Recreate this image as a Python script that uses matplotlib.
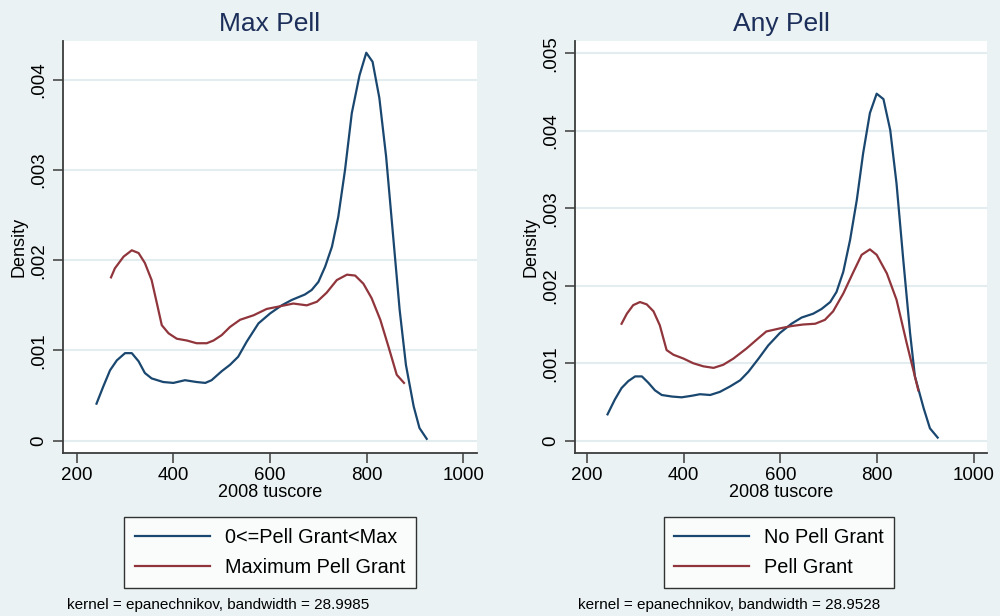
import matplotlib
matplotlib.use("Agg")
import matplotlib.pyplot as plt

# Max Pell panel
mp_lo_x = [241, 255, 269, 283, 300, 314, 328, 341, 355, 379, 400, 424, 448, 466, 479,
           500, 517, 534, 552, 576, 600, 624, 645, 672, 686, 700, 714, 728, 741, 755,
           769, 785, 799, 812, 826, 840, 854, 868, 881, 897, 909, 924]
mp_lo_y = [0.00041, 0.00060, 0.00078, 0.00089, 0.00097, 0.00097, 0.00088, 0.00075, 0.00069,
           0.00065, 0.00064, 0.00067, 0.00065, 0.00064, 0.00067, 0.00077, 0.00084, 0.00093,
           0.00110, 0.00130, 0.00141, 0.00150, 0.00156, 0.00162, 0.00167, 0.00176, 0.00193,
           0.00215, 0.00248, 0.00300, 0.00363, 0.00405, 0.00430, 0.00420, 0.00380, 0.00315,
           0.00230, 0.00145, 0.00084, 0.00038, 0.00014, 0.00002]
mp_max_x = [271, 279, 297, 314, 328, 341, 355, 366, 376, 390, 407, 428, 448, 469, 483, 500,
            517, 538, 566, 593, 621, 648, 676, 697, 717, 738, 759, 776, 793, 810, 828, 845,
            862, 877]
mp_max_y = [0.00181, 0.00191, 0.00204, 0.00211, 0.00208, 0.00197, 0.00178, 0.00152, 0.00128,
            0.00119, 0.00113, 0.00111, 0.00108, 0.00108, 0.00111, 0.00117, 0.00126, 0.00134,
            0.00139, 0.00146, 0.00149, 0.00152, 0.00150, 0.00154, 0.00164, 0.00178, 0.00184,
            0.00183, 0.00174, 0.00158, 0.00134, 0.00104, 0.00073, 0.00064]

# Any Pell panel
ap_no_x = [243, 258, 272, 286, 300, 314, 327, 341, 355, 376, 396, 417, 434, 455, 475, 496,
           517, 534, 555, 575, 599, 623, 644, 668, 685, 703, 716, 730, 744, 758, 771, 785,
           799, 813, 827, 840, 854, 868, 878, 896, 909, 925]
ap_no_y = [0.00034, 0.00053, 0.00068, 0.00077, 0.00083, 0.00083, 0.00075, 0.00065, 0.00059,
           0.00057, 0.00056, 0.00058, 0.00060, 0.00059, 0.00063, 0.00070, 0.00078, 0.00089,
           0.00106, 0.00123, 0.00139, 0.00151, 0.00159, 0.00164, 0.00170, 0.00179, 0.00192,
           0.00218, 0.00259, 0.00311, 0.00371, 0.00423, 0.00448, 0.00441, 0.00401, 0.00332,
           0.00233, 0.00139, 0.00083, 0.00042, 0.00016, 0.00004]
ap_yes_x = [272, 283, 296, 310, 324, 338, 351, 365, 379, 400, 420, 441, 462, 482, 503, 530,
            554, 571, 599, 623, 647, 672, 692, 709, 730, 751, 768, 785, 799, 820, 840, 861, 885]
ap_yes_y = [0.00151, 0.00164, 0.00175, 0.00179, 0.00176, 0.00167, 0.00149, 0.00117, 0.00111,
            0.00106, 0.00100, 0.00096, 0.00094, 0.00098, 0.00106, 0.00119, 0.00132, 0.00141,
            0.00145, 0.00148, 0.00150, 0.00151, 0.00156, 0.00167, 0.00190, 0.00218, 0.00240,
            0.00247, 0.00240, 0.00216, 0.00182, 0.00126, 0.00065]

x_ticks = [200, 400, 600, 800, 1000]
left_yticks = [0, 0.001, 0.002, 0.003, 0.004]
right_yticks = [0, 0.001, 0.002, 0.003, 0.004, 0.005]

NAVY = '#1a476f'
MAROON = '#90353b'
BG = '#eaf2f3'
GRID = '#e3edf0'
AXC = '#3c3c3c'

plt.rcParams['font.family'] = ['Liberation Sans', 'DejaVu Sans']

fig = plt.figure(figsize=(10, 6.16), dpi=100, facecolor=BG)


def ylab(v):
    return '0' if v == 0 else ('%.3f' % v)[1:]


def panel(rect, title, s1, s2, yticks, xlim, ylim, lab1, lab2, note, legc, notex):
    ax = fig.add_axes(rect)
    ax.set_facecolor('white')
    ax.plot(s1[0], s1[1], color=NAVY, lw=1.6, label=lab1)
    ax.plot(s2[0], s2[1], color=MAROON, lw=1.6, label=lab2)
    ax.set_xlim(*xlim)
    ax.set_ylim(*ylim)
    ax.set_xticks(x_ticks)
    ax.set_yticks(yticks)
    ax.set_yticklabels([ylab(v) for v in yticks], rotation=90, va='center')
    ax.yaxis.grid(True, color=GRID, lw=1.5)
    ax.set_axisbelow(True)
    for s in ['top', 'right']:
        ax.spines[s].set_visible(False)
    for s in ['left', 'bottom']:
        ax.spines[s].set_color(AXC)
        ax.spines[s].set_linewidth(1.3)
    ax.tick_params(colors=AXC, labelcolor='black', labelsize=13.5, length=7, width=1.1)
    ax.tick_params(axis='y', pad=4)
    ax.tick_params(axis='x', pad=3)
    ax.set_title(title, fontsize=19, color='#1c2e5a', pad=7)
    ax.set_xlabel('2008 tuscore', fontsize=13, labelpad=0)
    ax.set_ylabel('Density', fontsize=13, labelpad=2)
    h, l = ax.get_legend_handles_labels()
    leg = fig.legend(h, l, loc='center', bbox_to_anchor=legc, fontsize=14.3,
                     frameon=True, fancybox=False, edgecolor='black', facecolor='white',
                     handlelength=3.8, handletextpad=0.75, labelspacing=0.59, borderpad=0.52,
                     borderaxespad=0)
    leg.get_frame().set_linewidth(1.0)
    fig.text(notex, 1 - 605 / 616, note, fontsize=11, ha='left', va='center')
    return ax


panel([0.063, 0.2646, 0.414, 0.6688], 'Max Pell', (mp_lo_x, mp_lo_y), (mp_max_x, mp_max_y),
      left_yticks, (171.7, 1028), (-0.000137, 0.00443),
      '0<=Pell Grant<Max', 'Maximum Pell Grant',
      'kernel = epanechnikov, bandwidth = 28.9985', (0.270, 0.103), 0.067)
panel([0.575, 0.2646, 0.412, 0.6688], 'Any Pell', (ap_no_x, ap_no_y), (ap_yes_x, ap_yes_y),
      right_yticks, (175.8, 1026.9), (-0.000159, 0.00516),
      'No Pell Grant', 'Pell Grant',
      'kernel = epanechnikov, bandwidth = 28.9528', (0.779, 0.103), 0.578)

fig.savefig('out.png', dpi=100, facecolor=BG)
